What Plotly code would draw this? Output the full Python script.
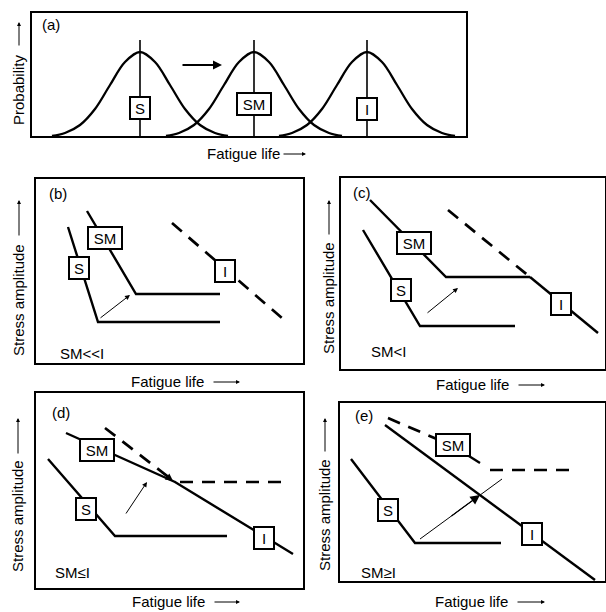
import plotly.graph_objects as go

FIG_W, FIG_H = 606, 612
FONT = "Liberation Sans, Arial, DejaVu Sans, sans-serif"

# ---------------- data (arbitrary schematic units) ----------------
# (a) life distributions: one bell profile placed at each mean life
bell_offset = [-88, -75, -60, -45, -30, -15, 0, 15, 30, 45, 60, 75, 88]
bell_height = [0, 3, 11, 27, 51, 74, 84, 74, 51, 27, 11, 3, 0]
mean_life = [108, 222, 335]
mean_marker_top = 96
dist_names = ["S", "SM", "I"]
dist_label_y = [28, 32, 27]

# (b) SM << I
b_S_x, b_S_y = [32, 62, 184], [136, 41, 41]
b_SM_x, b_SM_y = [51, 100, 184], [152, 69, 69]
b_I_x, b_I_y = [136, 247], [140, 44]
b_labels = {"S": (43, 95), "SM": (69, 125), "I": (189, 92)}
b_shift = [(63, 44), (94, 68)]

# (c) SM < I
c_S_x, c_S_y = [22, 79, 174], [139, 43, 43]
c_SM_x, c_SM_y = [29, 105, 189], [169, 92, 92]
c_Idash_x, c_Idash_y = [107, 189], [159, 92]
c_I_x, c_I_y = [189, 257], [92, 36]
c_labels = {"S": (60, 79), "SM": (73, 126), "I": (220, 65)}
c_shift = [(85, 55), (117, 81)]

# (d) SM <= I
d_S_x, d_S_y = [12, 79, 191], [129, 52, 52]
d_I_x, d_I_y = [30, 139, 257], [155, 106, 34]
d_SMdash_x, d_SMdash_y = [69, 139], [160, 106]
d_lim_x, d_lim_y = [144, 246], [106, 106]
d_labels = {"S": (50, 79), "SM": (61, 138), "I": (228, 50)}
d_shift = [(89, 73), (111, 106)]
d_meet = [(124, 117), (137, 107)]

# (e) SM >= I
e_S_x, e_S_y = [11, 75, 161], [122, 38, 38]
e_I_x, e_I_y = [45, 255], [156, 1]
e_SMdash_x, e_SMdash_y = [48, 113], [163, 135]
e_SM_x, e_SM_y = [113, 140], [135, 118]
e_lim_x, e_lim_y = [150, 230], [111, 111]
e_labels = {"S": (48, 71), "SM": (113, 136), "I": (192, 47)}
e_shift_x, e_shift_y = [80, 162], [42, 102]
e_head = [(110, 64), (140, 86)]

# ---------------- layout frames (pixels: left, right, top, bottom) ----------------
frames = {
    1: (32, 466, 13, 136),
    2: (36, 303, 179, 363),
    3: (341, 605, 178, 369),
    4: (36, 303, 393, 588),
    5: (340, 605, 403, 581),
}


def px(x, y):
    return x / FIG_W, 1 - y / FIG_H


fig = go.Figure()
SOLID = dict(color="black", width=2.4)
DASH = dict(color="black", width=2.7, dash="13px,9px")
THIN = dict(color="black", width=1)


def line(n, xs, ys, style):
    fig.add_trace(go.Scatter(x=xs, y=ys, mode="lines", line=style,
                             xaxis=f"x{n}", yaxis=f"y{n}",
                             hoverinfo="skip", showlegend=False))


annotations = []


def tag(n, text, xy, w):
    annotations.append(dict(
        x=xy[0], y=xy[1], xref=f"x{n}", yref=f"y{n}", text=text,
        xanchor="center", yanchor="middle",
        showarrow=False, bgcolor="white", bordercolor="black",
        borderwidth=2, borderpad=0, width=w, height=20,
        font=dict(family=FONT, size=15, color="black")))


box_w = {"S": 18, "SM": 32, "I": 18}


def arrow(n, tail, head, width=1, size=1.0):
    annotations.append(dict(
        x=head[0], y=head[1], ax=tail[0], ay=tail[1],
        xref=f"x{n}", yref=f"y{n}", axref=f"x{n}", ayref=f"y{n}",
        text="", showarrow=True, arrowhead=2, arrowsize=size,
        arrowwidth=width, arrowcolor="black", standoff=0))


def paper_text(x, y, text, anchor="center", angle=0):
    annotations.append(dict(x=x, y=y, xref="paper", yref="paper", text=text,
                            textangle=angle, showarrow=False,
                            xanchor=anchor, yanchor="middle",
                            font=dict(family=FONT, size=15, color="black")))


def paper_arrow(head, dx, dy):
    annotations.append(dict(x=head[0], y=head[1], xref="paper", yref="paper",
                            ax=dx, ay=dy, text="", showarrow=True, arrowhead=2,
                            arrowsize=0.8, arrowwidth=1, arrowcolor="black",
                            standoff=0))


# (a)
for c in mean_life:
    line(1, [c + o for o in bell_offset], bell_height,
         dict(color="black", width=2.3, shape="spline", smoothing=1.0))
    line(1, [c, c], [0, mean_marker_top], dict(color="black", width=1.6))
for name, c, yl in zip(dist_names, mean_life, dist_label_y):
    tag(1, name, (c, yl), box_w[name])
arrow(1, (149, 71), (190, 71), width=2, size=0.9)

# (b)
line(2, b_S_x, b_S_y, SOLID)
line(2, b_SM_x, b_SM_y, SOLID)
line(2, b_I_x, b_I_y, DASH)
for k, v in b_labels.items():
    tag(2, k, v, box_w[k])
arrow(2, b_shift[0], b_shift[1])

# (c)
line(3, c_S_x, c_S_y, SOLID)
line(3, c_SM_x, c_SM_y, SOLID)
line(3, c_Idash_x, c_Idash_y, DASH)
line(3, c_I_x, c_I_y, SOLID)
for k, v in c_labels.items():
    tag(3, k, v, box_w[k])
arrow(3, c_shift[0], c_shift[1])

# (d)
line(4, d_S_x, d_S_y, SOLID)
line(4, d_I_x, d_I_y, SOLID)
line(4, d_SMdash_x, d_SMdash_y, DASH)
line(4, d_lim_x, d_lim_y, DASH)
for k, v in d_labels.items():
    tag(4, k, v, box_w[k])
arrow(4, d_shift[0], d_shift[1])
arrow(4, d_meet[0], d_meet[1], width=1.5, size=1.0)

# (e)
line(5, e_S_x, e_S_y, SOLID)
line(5, e_I_x, e_I_y, SOLID)
line(5, e_SMdash_x, e_SMdash_y, DASH)
line(5, e_SM_x, e_SM_y, SOLID)
line(5, e_lim_x, e_lim_y, DASH)
line(5, e_shift_x, e_shift_y, THIN)
for k, v in e_labels.items():
    tag(5, k, v, box_w[k])
arrow(5, e_head[0], e_head[1], width=1.2, size=1.6)

# panel letters and case labels
letters = {1: ("(a)", 8, 25), 2: ("(b)", 11, 193), 3: ("(c)", 10, 192),
           4: ("(d)", 14, 412), 5: ("(e)", 13, 415)}
for n, (t, dx, yp) in letters.items():
    x0, y0 = px(frames[n][0] + dx, yp)
    paper_text(x0, y0, t, anchor="left")

cases = [(2, "SM<<I", 46, 10), (3, "SM<I", 47, 18), (4, "SM≤I", 36, 16), (5, "SM≥I", 38, 9)]
for n, t, cx, cy in cases:
    annotations.append(dict(x=cx, y=cy, xref=f"x{n}", yref=f"y{n}", text=t,
                            xanchor="center", yanchor="middle", showarrow=False,
                            font=dict(family=FONT, size=15, color="black")))

# axis titles with arrows (pixel positions)
x_titles = [(243, 153, 282, 306), (167, 381, 212, 240), (472, 384, 517, 545),
            (168, 601, 213, 240), (471, 601, 516, 545)]
for cx, cy, a0, a1 in x_titles:
    paper_text(*px(cx, cy), "Fatigue life")
    paper_arrow(px(a1, cy + 1), -(a1 - a0), 0)

y_titles = [("Probability", 18, 90, 47, 22), ("Stress amplitude", 18, 300, 237, 200),
            ("Stress amplitude", 328, 298, 236, 200), ("Stress amplitude", 17, 516, 455, 418),
            ("Stress amplitude", 324, 515, 453, 418)]
for t, cx, cy, a0, a1 in y_titles:
    paper_text(*px(cx, cy), t, angle=-90)
    paper_arrow(px(cx + 1, a1), 0, a0 - a1)

layout = dict(width=FIG_W, height=FIG_H, margin=dict(l=0, r=0, t=0, b=0),
              paper_bgcolor="white", plot_bgcolor="white", showlegend=False,
              annotations=annotations)
for n, (l, r, t, b) in frames.items():
    suffix = "" if n == 1 else str(n)
    axis = dict(showline=True, mirror=True, linecolor="black", linewidth=2,
                showticklabels=False, ticks="", showgrid=False, zeroline=False,
                fixedrange=True)
    layout[f"xaxis{suffix}"] = dict(axis, domain=[l / FIG_W, r / FIG_W], range=[0, r - l],
                                    anchor=f"y{n}")
    layout[f"yaxis{suffix}"] = dict(axis, domain=[1 - b / FIG_H, 1 - t / FIG_H],
                                    range=[0, b - t], anchor=f"x{n}")

fig.update_layout(**layout)
fig.write_html("out.html")
